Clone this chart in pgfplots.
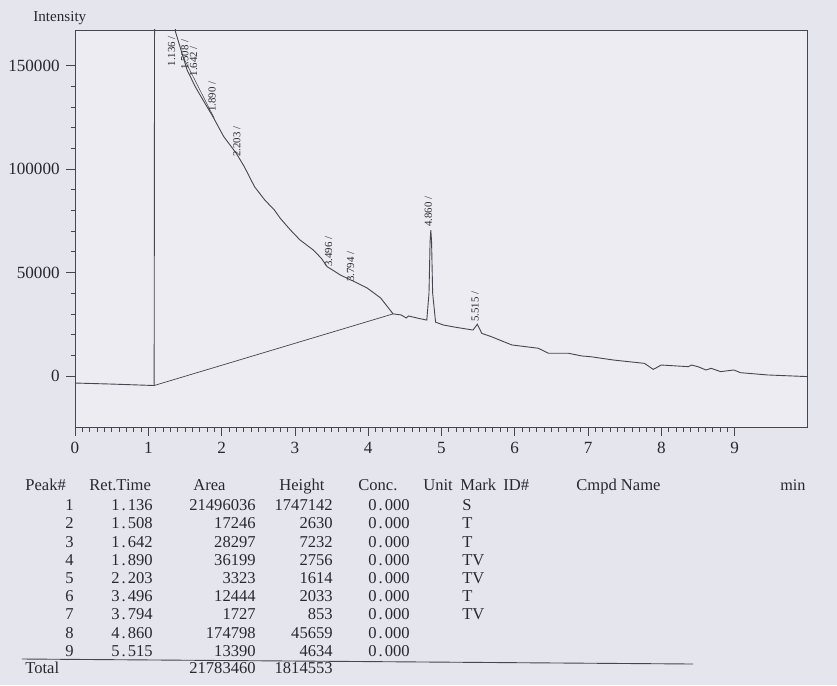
\documentclass[border=0pt]{standalone}
\usepackage{pgfplots}
\pgfplotsset{compat=1.18}
\usepackage{fontspec}
\setmainfont{Liberation Serif}

\definecolor{paper}{RGB}{229,229,237}
\definecolor{plotbg}{RGB}{236,236,242}
\definecolor{ink}{RGB}{70,70,82}
\definecolor{txt}{RGB}{40,40,50}
% the printer sets the decimal point a little wide
\newcommand\dt{\kern0.12em.\kern0.12em}

\begin{document}
\begin{tikzpicture}
% page background, in pixel units of the printout
\begin{scope}[x=0.5556pt,y=-0.5556pt,xshift=-41.67pt,yshift=237.24pt]
  \fill[paper] (0,0) rectangle (837,685);
\end{scope}

\begin{axis}[
    scale only axis,
    width=407.2pt, height=220.6pt,
    xmin=0, xmax=10,
    ymin=-24640, ymax=167150,
    axis background/.style={fill=plotbg},
    axis line style={ink, line width=0.5pt},
    xtick={0,...,9},
    ytick={0,50000,100000,150000},
    minor x tick num=9,
    minor y tick num=4,
    xtick pos=bottom, ytick pos=left,
    tick align=outside,
    major tick length=5pt, minor tick length=2.5pt,
    tick style={ink, line width=0.4pt},
    ticklabel style={font=\fontsize{9.5}{10}\selectfont, text=txt},
    scaled y ticks=false,
    yticklabel style={/pgf/number format/fixed, /pgf/number format/1000 sep={}},
    /pgf/number format/assume math mode=true,
]

% detector trace
\addplot[ink, line width=0.5pt] coordinates {
(0,-3400) (0.5,-3900) (1.08,-4600) (1.136,1750000) (1.37,166400)
(1.46,155900) (1.53,147800) (1.64,139800) (1.76,132500) (1.87,126000)
(2.03,115600) (2.20,107600) (2.31,101100) (2.45,91400) (2.59,85000)
(2.72,80200) (2.80,76200) (2.94,70500) (3.07,65700) (3.25,60900)
(3.36,56900) (3.44,52800) (3.50,51500) (3.62,48800) (3.76,46400)
(3.79,46000) (3.99,42400) (4.17,37700) (4.34,30000) (4.45,29500)
(4.52,28000) (4.55,29000) (4.68,27900) (4.80,27000) (4.83,40000)
(4.845,65000) (4.855,70500) (4.865,65000) (4.88,40000) (4.92,26000)
(5.03,24600) (5.20,23500)
(5.43,22200) (5.49,25000) (5.55,20600) (5.68,19000) (5.96,15000)
(6.32,13400) (6.46,11000) (6.73,11000) (6.91,9700) (7.04,9300)
(7.35,7700) (7.77,6100) (7.89,3200) (8.00,5300) (8.37,4500)
(8.41,5300) (8.50,4500) (8.61,2900) (8.68,3700) (8.81,2100)
(8.99,2900) (9.08,1600) (9.45,500) (10.0,-300)
};

% integrator baseline and peak split line
\addplot[ink, line width=0.4pt] coordinates {(1.08,-4600) (4.34,30000)};
\addplot[ink, line width=0.3pt] coordinates {(1.47,154500) (1.90,124500)};

% retention time marks
\tikzset{rt/.style={rotate=90, anchor=west, inner sep=0pt, text=txt,
    font=\fontsize{6}{7}\selectfont}}
\node[rt] at (axis cs:1.32,149400) {1.136 /};
\node[rt] at (axis cs:1.50,147800) {1.508 /};
\node[rt] at (axis cs:1.62,144600) {1.642 /};
\node[rt] at (axis cs:1.87,127500) {1.890 /};
\node[rt] at (axis cs:2.21,105800) {2.203 /};
\node[rt] at (axis cs:3.46,52700) {3.496 /};
\node[rt] at (axis cs:3.76,45400) {3.794 /};
\node[rt] at (axis cs:4.82,72000) {4.860 /};
\node[rt] at (axis cs:5.46,26100) {5.515 /};

\end{axis}

% labels and peak table, in pixel units of the printout
\begin{scope}[x=0.5556pt,y=-0.5556pt,xshift=-41.67pt,yshift=237.24pt,
    every node/.style={inner sep=0pt, text=txt, font=\fontsize{9.2}{11}\selectfont}]
  \node[anchor=west, font=\fontsize{8.4}{10}\selectfont] at (33,18) {Intensity};
  \node[anchor=west, font=\fontsize{9}{10}\selectfont] at (780,485) {min};

  \node[anchor=base west] at (25,490.5) {Peak\#};
  \node[anchor=base west] at (89,490.5) {Ret.Time};
  \node[anchor=base west] at (193,490.5) {Area};
  \node[anchor=base west] at (279,490.5) {Height};
  \node[anchor=base west] at (358,490.5) {Conc.};
  \node[anchor=base west] at (423,490.5) {Unit};
  \node[anchor=base west] at (460,490.5) {Mark};
  \node[anchor=base west] at (503,490.5) {ID\#};
  \node[anchor=base west] at (576,490.5) {Cmpd Name};

  \foreach \n/\rt/\ar/\h/\m [count=\i] in {
      1/1\dt136/21496036/1747142/S,
      2/1\dt508/17246/2630/T,
      3/1\dt642/28297/7232/T,
      4/1\dt890/36199/2756/TV,
      5/2\dt203/3323/1614/TV,
      6/3\dt496/12444/2033/T,
      7/3\dt794/1727/853/TV,
      8/4\dt860/174798/45659/{},
      9/5\dt515/13390/4634/{}} {
    \node[anchor=base east] at (74,{510.7+18.2*(\i-1)}) {\n};
    \node[anchor=base east] at (153,{510.7+18.2*(\i-1)}) {\rt};
    \node[anchor=base east] at (256,{510.7+18.2*(\i-1)}) {\ar};
    \node[anchor=base east] at (333,{510.7+18.2*(\i-1)}) {\h};
    \node[anchor=base east] at (410,{510.7+18.2*(\i-1)}) {0\dt000};
    \node[anchor=base west] at (462,{510.7+18.2*(\i-1)}) {\m};
  }

  \draw[ink, line width=0.5pt] (22,659) -- (693,664);
  \node[anchor=base west] at (25,673) {Total};
  \node[anchor=base east] at (256,673) {21783460};
  \node[anchor=base east] at (333,673) {1814553};
\end{scope}
\end{tikzpicture}
\end{document}
